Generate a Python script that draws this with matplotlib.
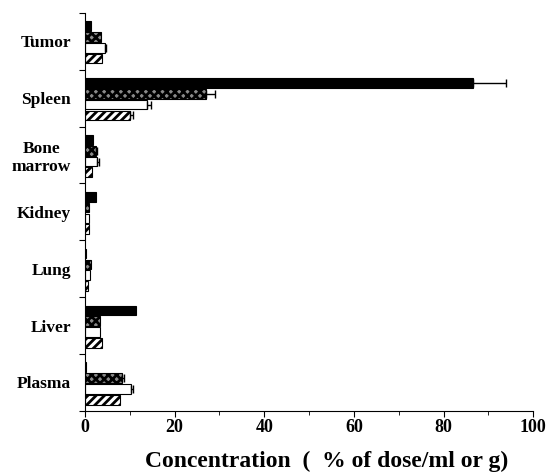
import matplotlib
matplotlib.use("Agg")
import matplotlib.pyplot as plt
import numpy as np

plt.rcParams['font.family'] = ['Liberation Serif', 'DejaVu Serif']
plt.rcParams['font.weight'] = 'bold'
plt.rcParams['hatch.linewidth'] = 2.0

categories = ["Tumor", "Spleen", "Bone\nmarrow", "Kidney", "Lung", "Liver", "Plasma"]
series_black = [1.3, 86.5, 1.9, 2.5, 0.2, 11.5, 0.3]
series_gray = [3.5, 27.1, 2.5, 0.8, 1.3, 3.3, 8.2]
series_white = [4.5, 13.9, 2.8, 0.8, 1.1, 3.3, 10.3]
series_hatch = [3.9, 10.0, 1.6, 1.0, 0.6, 3.7, 7.8]
err_black = [0, 7.5, 0, 0, 0, 0, 0]
err_gray = [0, 1.9, 0.3, 0, 0, 0, 0.6]
err_white = [0.3, 0.8, 0.3, 0, 0, 0, 0.5]
err_hatch = [0, 0.7, 0, 0, 0, 0, 0]
xticks = [0, 20, 40, 60, 80, 100]

fig = plt.figure(figsize=(5.48, 4.76), dpi=100)
ax = fig.add_axes([0.155, 0.137, 0.818, 0.836])

n = len(categories)
y = np.arange(n)
step = 0.19
h = 0.17
styles = [
    (series_black, err_black, dict(color='black', edgecolor='black')),
    (series_gray, err_gray, dict(facecolor='#8a8a8a', edgecolor='black', hatch='xxxx')),
    (series_white, err_white, dict(facecolor='white', edgecolor='black')),
    (series_hatch, err_hatch, dict(facecolor='white', edgecolor='black', hatch='////')),
]
for i, (vals, errs, st) in enumerate(styles):
    pos = y + (i - 1.5) * step + 0.02
    ax.barh(pos, vals, height=h, linewidth=0.8, **st)
    errs = np.array(errs)
    mask = errs > 0
    if mask.any():
        ax.errorbar(np.array(vals)[mask], pos[mask],
                    xerr=[np.zeros(mask.sum()), errs[mask]],
                    fmt='none', ecolor='black', elinewidth=1.0, capsize=3, capthick=1.0)

ax.set_ylim(n - 0.5, -0.5)
ax.set_xlim(0, 100)
ax.set_xticks(xticks)
ax.set_xticks(np.arange(10, 100, 20), minor=True)
ax.set_xticklabels([str(t) for t in xticks], fontsize=13, fontweight='bold')
ax.set_yticks(np.arange(-0.5, n, 1.0))
ax.set_yticklabels([])
ax.set_yticks(y, minor=True)
ax.set_yticklabels(categories, minor=True, fontsize=12.5, fontweight='bold', multialignment='center')
ax.tick_params(axis='y', which='minor', length=0, pad=10)
ax.tick_params(axis='y', which='major', length=4, direction='out')
ax.tick_params(axis='x', which='major', length=4, direction='out', pad=2)
ax.tick_params(axis='x', which='minor', length=3, direction='out')
ax.spines['top'].set_visible(False)
ax.spines['right'].set_visible(False)
ax.set_xlabel("Concentration  (  % of dose/ml or g)", fontsize=17, fontweight='bold')
ax.xaxis.set_label_coords(0.54, -0.1)

fig.savefig("out.png", dpi=100)
